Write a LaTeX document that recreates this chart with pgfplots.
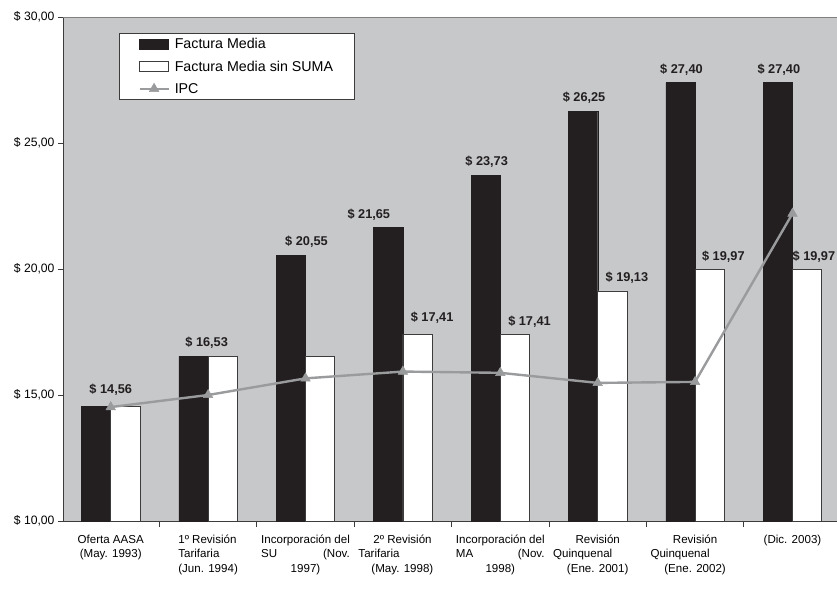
\documentclass[border=0pt]{standalone}
\usepackage{fontspec}
\setmainfont{Liberation Sans}
\usepackage{pgfplots}
\pgfplotsset{compat=1.18}
\definecolor{bgc}{HTML}{C7C8CA}
\definecolor{barblk}{HTML}{231F20}
\definecolor{edgec}{HTML}{3C3C3C}
\definecolor{ipc}{HTML}{9A9B9D}
\pgfplotsset{
  barleg/.style={legend image code/.code={\draw[##1] (0bp,-5bp) rectangle (29bp,5bp);}},
  lineleg/.style={legend image code/.code={\draw[##1,mark repeat=2,mark phase=2] plot coordinates {(0bp,0bp) (14.5bp,0bp) (29bp,0bp)};}},
}
\begin{document}
\begin{tikzpicture}
\begin{axis}[name=ax, scale only axis, width=774bp, height=504bp,
  xmin=-0.49, xmax=7.457, ymin=10, ymax=30,
  axis lines=left, axis line style={-, draw=edgec, line width=0.8bp},
  axis background/.style={fill=bgc},
  xtick={0,...,7}, major x tick style={draw=none},
  minor xtick={0.5,1.5,...,6.5},
  ytick={10,15,20,25,30},
  yticklabels={{\$ 10,00},{\$ 15,00},{\$ 20,00},{\$ 25,00},{\$ 30,00}},
  tick align=outside, major tick length=5bp, minor tick length=6bp,
  tick style={draw=edgec, line width=0.8bp},
  yticklabel style={font=\fontsize{12.2}{14}\selectfont, xshift=0bp},
  xticklabel style={font=\fontsize{11.6}{14.4}\selectfont, anchor=north, yshift=-4bp},
  xticklabels={
    {\begin{tabular}{@{}c@{}}Oferta AASA\\(May. 1993)\end{tabular}},
    {\begin{tabular}{@{}l@{}}1º Revisión\\Tarifaria\\(Jun. 1994)\end{tabular}},
    {\begin{tabular}{@{}c@{}}Incorporación del\\SU\hfill(Nov.\\1997)\end{tabular}},
    {\begin{tabular}{@{}l@{}}\hspace*{15bp}2º Revisión\\Tarifaria\\\hspace*{13bp}(May. 1998)\end{tabular}\hspace*{14bp}},
    {\begin{tabular}{@{}c@{}}Incorporación del\\MA\hfill(Nov.\\1998)\end{tabular}},
    {\begin{tabular}{@{}c@{}}Revisión\\Quinquenal\hspace*{30bp}\\(Ene. 2001)\end{tabular}},
    {\begin{tabular}{@{}c@{}}Revisión\\Quinquenal\hspace*{30bp}\\(Ene. 2002)\end{tabular}},
    {\begin{tabular}{@{}c@{}}(Dic. 2003)\end{tabular}}
  },
  legend style={at={(0.0724,0.968)}, anchor=north west, draw=edgec, line width=0.7bp,
    fill=white, font=\fontsize{14.3}{16.5}\selectfont, inner xsep=19bp, inner ysep=3bp,
    row sep=6.5bp, /tikz/every odd column/.append style={column sep=3bp}},
  legend cell align=left,
]
\addplot[ybar, bar width=0.3, bar shift=-0.15, fill=barblk, draw=barblk, barleg]
  coordinates {(0,14.56) (1,16.53) (2,20.55) (3,21.65) (4,23.73) (5,26.25) (6,27.40) (7,27.40)};
\addlegendentry{Factura Media}
\addplot[ybar, bar width=0.3, bar shift=0.15, fill=white, draw=edgec, line width=0.8bp, barleg]
  coordinates {(0,14.56) (1,16.53) (2,16.53) (3,17.41) (4,17.41) (5,19.13) (6,19.97) (7,19.97)};
\addlegendentry{Factura Media sin SUMA}
\addplot[sharp plot, color=ipc, line width=2.4bp, mark=triangle*, mark size=5.5bp,
  mark options={fill=ipc, draw=ipc, line width=0.5bp}, lineleg]
  coordinates {(0,14.52) (1,15.00) (2,15.66) (3,15.93) (4,15.88) (5,15.48) (6,15.52) (7,22.20)};
\addlegendentry{IPC}
\tikzset{lbl/.style={font=\bfseries\fontsize{12.8}{15}\selectfont, text=barblk, inner sep=0pt}}
\node[lbl] at (axis cs:0,15.20) {\$ 14,56};
\node[lbl] at (axis cs:0.985,17.06) {\$ 16,53};
\node[lbl] at (axis cs:2.01,21.07) {\$ 20,55};
\node[lbl] at (axis cs:2.65,22.16) {\$ 21,65};
\node[lbl] at (axis cs:3.30,18.06) {\$ 17,41};
\node[lbl] at (axis cs:3.86,24.25) {\$ 23,73};
\node[lbl] at (axis cs:4.30,17.90) {\$ 17,41};
\node[lbl] at (axis cs:4.86,26.79) {\$ 26,25};
\node[lbl] at (axis cs:5.30,19.64) {\$ 19,13};
\node[lbl] at (axis cs:5.86,27.90) {\$ 27,40};
\node[lbl] at (axis cs:6.29,20.48) {\$ 19,97};
\node[lbl] at (axis cs:6.86,27.90) {\$ 27,40};
\node[lbl] at (axis cs:7.22,20.48) {\$ 19,97};
\draw[gray, line width=0.8bp] (rel axis cs:0,1) -- (rel axis cs:1,1);
\end{axis}
\pgfresetboundingbox
\path ([xshift=-63bp,yshift=-79bp]ax.south west) rectangle ([yshift=17bp]ax.north east);
\end{tikzpicture}
\end{document}
